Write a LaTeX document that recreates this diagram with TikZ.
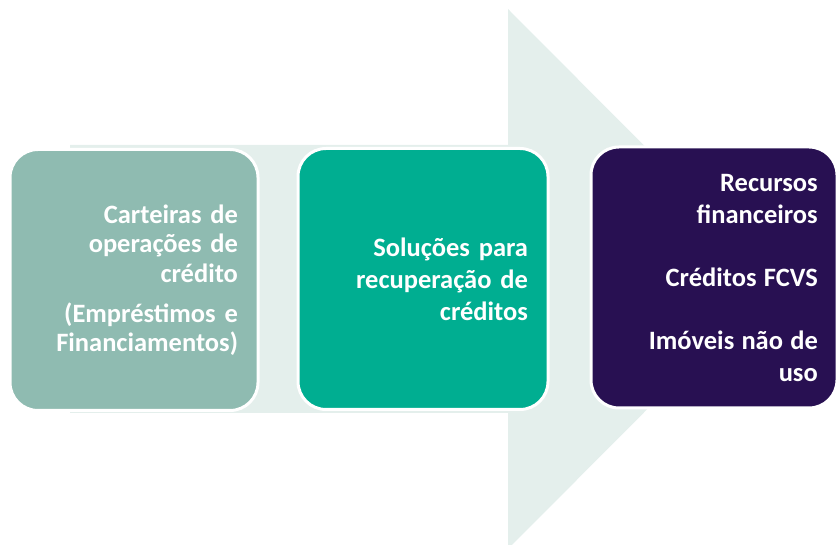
\documentclass[tikz,border=0pt]{standalone}
\usepackage{fontspec}
\setmainfont{Carlito}[WordSpace=1.2]
\definecolor{arrowc}{RGB}{228,239,236}
\definecolor{cA}{RGB}{143,187,177}
\definecolor{cB}{RGB}{0,174,145}
\definecolor{cC}{RGB}{40,16,82}
\begin{document}
\begin{tikzpicture}[x=1pt,y=-1pt,
  box/.style={draw=white, line width=3pt, rounded corners=28pt, text=white,
    align=right, inner ysep=0pt, inner xsep=20pt,
    minimum height=261pt},
  txt/.style={text=white, anchor=base east, inner sep=0pt,
    font=\fontsize{26.5}{31.7}\selectfont\bfseries}]
\useasboundingbox (0,0) rectangle (836,545);
\fill[arrowc] (70,145) -- (508,145) -- (508,9) -- (777,279) -- (508,549) -- (508,413) -- (70,413) -- cycle;
\node[box, fill=cA, minimum width=248pt, text width=208pt,
  font=\fontsize{26.5}{29.5}\selectfont\bfseries] (b1) at (134,280)
  {Carteiras de\\operações de\\crédito\\[10.5pt](Empréstimos e\\Financiamentos)};
\node[box, fill=cB, minimum width=250pt, text width=210pt,
  font=\fontsize{26.5}{32}\selectfont\bfseries] (b2) at (423,279)
  {Soluções para\\recuperação de\\créditos};
\node[box, fill=cC, minimum width=246pt] (b3) at (714,277.5) {};
\node[txt] (t1) at (818,191.7) {Recursos};
\node[txt] (t2) at (818,223.3) {financeiros};
\node[txt] (t3) at (818,286.7) {Créditos FCVS};
\node[txt] (t4) at (818,350) {Imóveis não de};
\node[txt] (t5) at (818,381.7) {uso};
\end{tikzpicture}
\end{document}
